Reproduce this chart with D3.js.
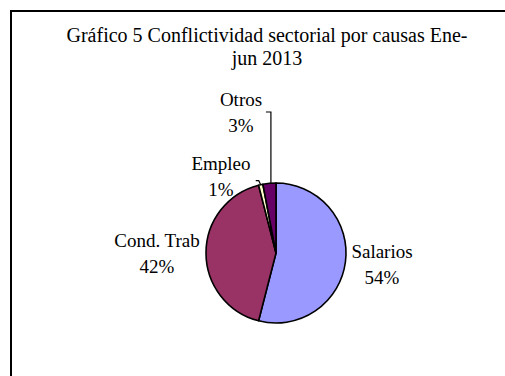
<!DOCTYPE html>
<html>
<head>
<meta charset="utf-8">
<script src="https://cdn.jsdelivr.net/npm/d3@7"></script>
<style>
  html, body { margin: 0; padding: 0; background: #fff; }
  svg { display: block; }
  text { font-family: "Liberation Serif", "Times New Roman", serif; fill: #000; }
</style>
</head>
<body>
<svg id="chart" width="505" height="376"></svg>
<script>
// Causes of sectoral conflict, Jan–Jun 2013 (percent of cases)
const categories = ["Salarios", "Cond. Trab", "Empleo", "Otros"];
const values = [54, 42, 1, 3];
const colors = ["#9999FF", "#993366", "#FFFFCC", "#660066"];
const titleLines = ["Gráfico 5 Conflictividad sectorial por causas Ene-", "jun 2013"];

const W = 505, H = 376;
const cx = 276, cy = 253, radius = 70;

// Label placement relative to the pie centre (label block centre)
const labelOffsets = [
  [106, 11],
  [-119, 0],
  [-55, -77],
  [-35, -141]
];
// Slices whose labels are tied back with a leader line
const leaderSlices = new Set([2, 3]);

const svg = d3.select("#chart");

// Chart area frame
svg.append("rect")
  .attr("x", 11).attr("y", 11)
  .attr("width", W + 20).attr("height", H + 20)
  .attr("fill", "none")
  .attr("stroke", "#000")
  .attr("stroke-width", 2);

// Title
const title = svg.append("text")
  .attr("text-anchor", "middle")
  .style("font-size", "20px");
titleLines.forEach((t, i) => {
  title.append("tspan")
    .attr("x", 267)
    .attr("y", 42 + i * 23)
    .text(t);
});

const total = d3.sum(values);
const pie = d3.pie().sort(null).value(d => d)(values);
const arc = d3.arc().innerRadius(0).outerRadius(radius);
const rim = d3.arc().innerRadius(radius).outerRadius(radius);

const g = svg.append("g").attr("transform", `translate(${cx},${cy})`);

g.selectAll("path.slice")
  .data(pie)
  .join("path")
  .attr("class", "slice")
  .attr("d", arc)
  .attr("fill", (d, i) => colors[i])
  .attr("stroke", "#000")
  .attr("stroke-width", 1.6)
  .attr("stroke-linejoin", "round");

// Labels: category name above, percentage below
const labels = g.selectAll("g.label")
  .data(pie)
  .join("g")
  .attr("class", "label")
  .attr("transform", (d, i) => `translate(${labelOffsets[i][0]},${labelOffsets[i][1]})`);

labels.append("text")
  .attr("text-anchor", "middle")
  .attr("y", -6)
  .style("font-size", "19px")
  .text((d, i) => categories[i]);

labels.append("text")
  .attr("text-anchor", "middle")
  .attr("y", 20)
  .style("font-size", "19px")
  .text(d => Math.round(d.data / total * 100) + "%");

// Leader lines from the small slices to their labels
pie.forEach((d, i) => {
  if (!leaderSlices.has(i)) return;
  const [px, py] = rim.centroid(d);
  const [lx, ly] = labelOffsets[i];
  let pts;
  if (i === 3) {
    const x0 = px + 1.5, y0 = ly;
    pts = [[x0 - 5, y0], [x0, y0], [x0, py]];
  } else {
    pts = [[px - 5, py - 4], [px - 2, py - 4], [px, py]];
  }
  g.append("path")
    .attr("d", d3.line()(pts))
    .attr("fill", "none")
    .attr("stroke", "#000")
    .attr("stroke-width", 1.2);
});
</script>
</body>
</html>
